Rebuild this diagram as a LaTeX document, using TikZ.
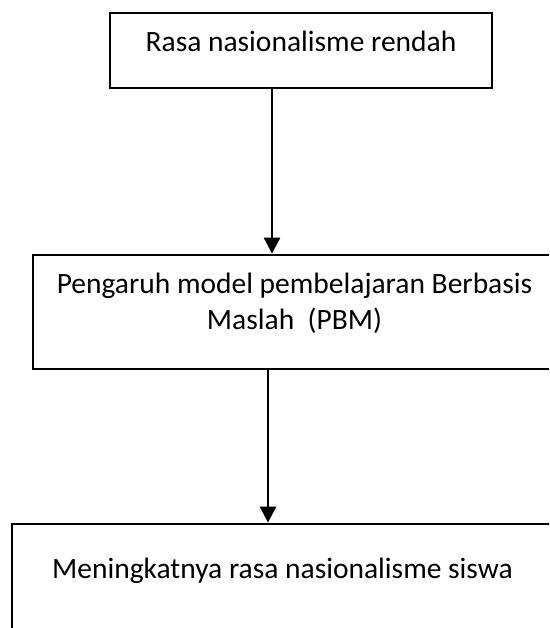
\documentclass[tikz,border=0pt]{standalone}
\usepackage{fontspec}
\setmainfont{Carlito}
\usetikzlibrary{arrows.meta,positioning}

\begin{document}
\begin{tikzpicture}[x=1pt,y=-1pt,
    kotak/.style={draw,line width=2.8pt,inner sep=0pt,align=center,
      font=\fontsize{29.5}{36}\selectfont},
    panah/.style={line width=2.8pt,-{Triangle[width=16pt,length=16pt]}}]
    \useasboundingbox (0,0) rectangle (549,628);
    \clip (0,0) rectangle (549,628);
    \node[kotak,minimum width=382pt,minimum height=75pt,text height=20pt,text depth=17pt] (rendah) at (301,50.5) {Rasa nasionalisme rendah};
    \node[kotak,minimum width=523pt,minimum height=114pt,text height=56pt,text depth=22pt] (pengaruh) at (294.5,312) {Pengaruh model pembelajaran Berbasis\\Maslah \ (PBM)};
    \node[kotak,minimum width=541pt,minimum height=130pt,text height=20pt,text depth=42pt] (meningkat) at (282.5,589) {Meningkatnya rasa nasionalisme siswa};
    \draw[panah] ([xshift=-29pt]rendah.south) -- ([xshift=-29pt]rendah.south |- pengaruh.north);
    \draw[panah] ([xshift=-26.5pt]pengaruh.south) -- ([xshift=-26.5pt]pengaruh.south |- meningkat.north);
  \end{tikzpicture}
\end{document}
